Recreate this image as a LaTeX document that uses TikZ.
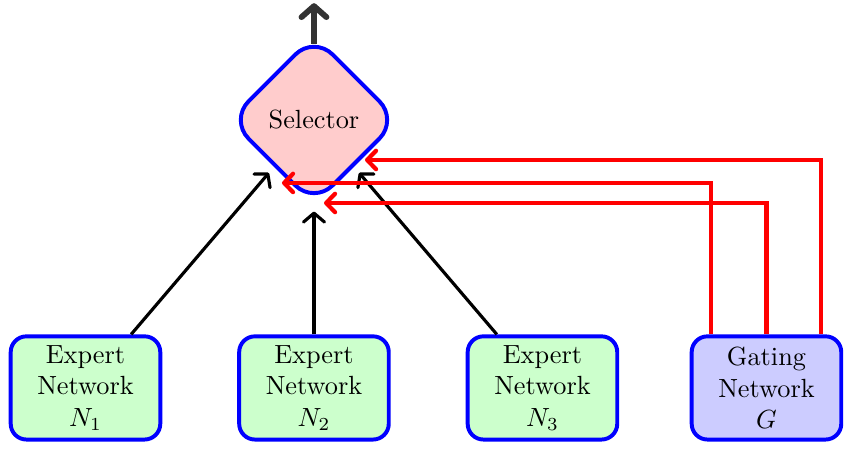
\documentclass[tikz,border=0pt]{standalone}
\usepackage{amsmath,amssymb,amsfonts}
\usepackage{xcolor}
\usepackage{tikz}
\usetikzlibrary{shapes,arrows.meta,positioning}

\tikzset{
    expert/.style={draw=blue, line width=1.5pt, fill=green!20, rounded corners=6pt,
        align=center, minimum width=2cm, minimum height=1.38cm, inner sep=2pt},
    gating/.style={expert, fill=blue!20},
    selector/.style={diamond, draw=blue, line width=1.5pt, fill=red!20,
        rounded corners=10pt, minimum width=2.27cm, minimum height=2.27cm, inner sep=0pt},
    feed/.style={-{Straight Barb[length=3.4pt, width=8pt, round]}, very thick, black},
    gatearrow/.style={-{Straight Barb[length=3.4pt, width=7pt, round]}, ultra thick, red},
    outarrow/.style={-{Straight Barb[length=4.2pt, width=9.5pt, round]}, line width=2.2pt, black!80},
}

\begin{document}
\begin{tikzpicture}
    \useasboundingbox (0,0) rectangle (11.405,6.083);

    % Experts and gate
    \node[expert] (n1) at (1.143,0.896) {Expert\\Network\\$N_1$};
    \node[expert] (n2) at (4.198,0.896) {Expert\\Network\\$N_2$};
    \node[expert] (n3) at (7.253,0.896) {Expert\\Network\\$N_3$};
    \node[gating] (g) at (10.248,0.896) {Gating\\Network\\$G$};

    % Selector
    \node[selector] (sel) at (4.198,4.479) {Selector};
    \coordinate (out) at (4.198,6.04);

    % Gate inputs of the selector
    \coordinate (t1) at (3.770,3.637);
    \coordinate (t2) at (4.332,3.369);
    \coordinate (t3) at (4.880,3.944);

    % Expert outputs
    \draw[feed, shorten >=3pt] (n1) -- (sel);
    \draw[feed, shorten >=1.8pt] (n2) -- (sel);
    \draw[feed, shorten >=3pt] (n3) -- (sel);

    % Gating signals
    \draw[gatearrow] ([xshift=-0.74cm]g.north) |- (t1);
    \draw[gatearrow] (g.north) |- (t2);
    \draw[gatearrow] ([xshift=0.73cm]g.north) |- (t3);

    % Output
    \draw[outarrow] ([yshift=-4pt]sel.north) -- (out);
\end{tikzpicture}
\end{document}
